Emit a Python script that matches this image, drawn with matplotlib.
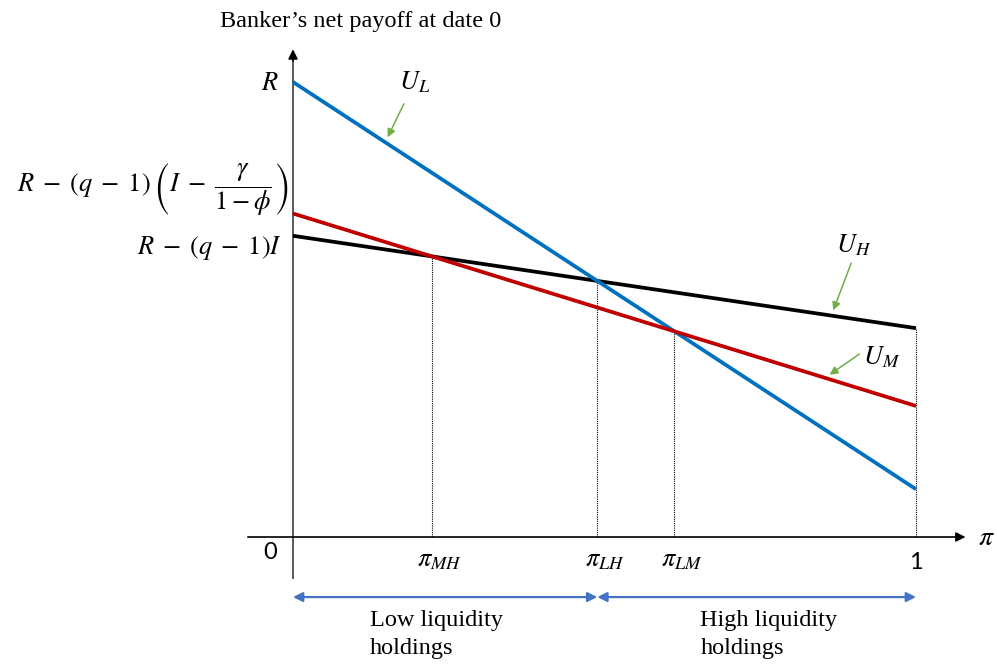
import numpy as np
import matplotlib.pyplot as plt

plt.rcParams['mathtext.fontset'] = 'stix'

# payoff of each liquidity choice at pi = 0 and pi = 1 (R normalised to 1)
pi_ends = [0.0, 1.0]
u_low = [1.0, 0.105]
u_mid = [0.711, 0.288]
u_high = [0.662, 0.459]

line_labels = [r'$U_L$', r'$U_M$', r'$U_H$']
cut_labels = [r'$\pi_{MH}$', r'$\pi_{LH}$', r'$\pi_{LM}$']
y_labels = [r'$R$',
            r'$R\;-\;(q\;-\;1)\,\left(I\;-\;\dfrac{\gamma}{1-\phi}\right)$',
            r'$R\;-\;(q\;-\;1)I$']
region_labels = ['Low liquidity\nholdings', 'High liquidity\nholdings']

BLUE = '#0070C0'
RED = '#C00000'
GREEN = '#70AD47'
ARROW_BLUE = '#4472C4'
SERIF = 'Liberation Serif'
MATH_SIZE = 19


def crossing(a, b):
    # where two straight payoff lines meet
    da = a[1] - a[0]
    db = b[1] - b[0]
    p = (b[0] - a[0]) / (da - db)
    return p, a[0] + da * p


def value(u, p):
    return u[0] + (u[1] - u[0]) * p


fig = plt.figure(figsize=(9.97, 6.67), dpi=100)
ax = fig.add_axes([0, 0, 1, 1])
ax.set_xlim(-293 / 623, 704 / 623)
ax.set_ylim(-130 / 455, 537 / 455)
ax.axis('off')

# axes drawn by hand with arrow heads
ax.plot([0, 0], [-0.09, 1.06], color='#595959', lw=1.4)
ax.annotate('', xy=(0, 1.078), xytext=(0, 1.04),
            arrowprops=dict(arrowstyle='-|>', color='black', lw=1.2, mutation_scale=14))
ax.annotate('', xy=(1.084, 0), xytext=(-0.077, 0),
            arrowprops=dict(arrowstyle='-|>', color='black', lw=1.2, mutation_scale=14))

# cut-off points and dotted guides
p_mh, y_mh = crossing(u_mid, u_high)
p_lh, y_lh = crossing(u_low, u_high)
p_lm, y_lm = crossing(u_low, u_mid)
for p, y in [(p_mh, y_mh), (p_lh, y_lh), (p_lm, y_lm), (1.0, u_high[1])]:
    ax.plot([p, p], [0, y], color='black', lw=0.8, ls=(0, (1, 1)), zorder=1)

# payoff lines
ax.plot(pi_ends, u_low, color=BLUE, lw=2.7, solid_capstyle='butt', zorder=3)
ax.plot(pi_ends, u_mid, color=RED, lw=2.7, solid_capstyle='butt', zorder=3)
ax.plot(pi_ends, u_high, color='black', lw=2.7, solid_capstyle='butt', zorder=2)

# line names with small green pointers
pointers = [(u_low, 0.148, (0.178, 0.952), (0.196, 1.0)),
            (u_mid, 0.854, (0.909, 0.402), (0.945, 0.395)),
            (u_high, 0.864, (0.896, 0.602), (0.90, 0.64))]
for (u, p, tail, lab), name in zip(pointers, line_labels):
    ax.annotate('', xy=(p, value(u, p)), xytext=tail,
                arrowprops=dict(arrowstyle='-|>', color=GREEN, lw=1.1,
                                mutation_scale=12, shrinkA=0, shrinkB=4))
    ax.text(lab[0], lab[1], name, fontsize=MATH_SIZE, ha='center', va='center')

# y-axis labels
ax.text(-0.022, 0.998, y_labels[0], fontsize=MATH_SIZE, ha='right', va='center')
ax.text(-0.008, 0.764, y_labels[1], fontsize=MATH_SIZE, ha='right', va='center')
ax.text(-0.018, 0.636, y_labels[2], fontsize=MATH_SIZE, ha='right', va='center')

# x-axis labels
for p, name in zip([p_mh, p_lh, p_lm], cut_labels):
    ax.text(p + 0.012, -0.05, name, fontsize=MATH_SIZE, ha='center', va='center')
ax.text(-0.037, -0.033, '0', fontsize=17, family='Lato', ha='center', va='center')
ax.text(1.0, -0.057, '1', fontsize=17, family='Lato', ha='center', va='center')
ax.text(1.113, -0.001, r'$\pi$', fontsize=20, ha='center', va='center')

ax.text(0.109, 1.132, 'Banker\u2019s net payoff at date 0', fontsize=17.5,
        family=SERIF, ha='center', va='center')

# regions of the liquidity choice
y_arr = -0.132
for a, b in [(0.0, p_lh), (p_lh, 1.0)]:
    ax.annotate('', xy=(b, y_arr), xytext=(a, y_arr),
                arrowprops=dict(arrowstyle='<|-|>', color=ARROW_BLUE, lw=1.6,
                                mutation_scale=14, shrinkA=0, shrinkB=0))
ax.text(0.124, -0.16, region_labels[0], fontsize=17.5, family=SERIF,
        ha='left', va='top', linespacing=1.45)
ax.text(0.654, -0.16, region_labels[1], fontsize=17.5, family=SERIF,
        ha='left', va='top', linespacing=1.45)

fig.savefig('out.png', dpi=100)
